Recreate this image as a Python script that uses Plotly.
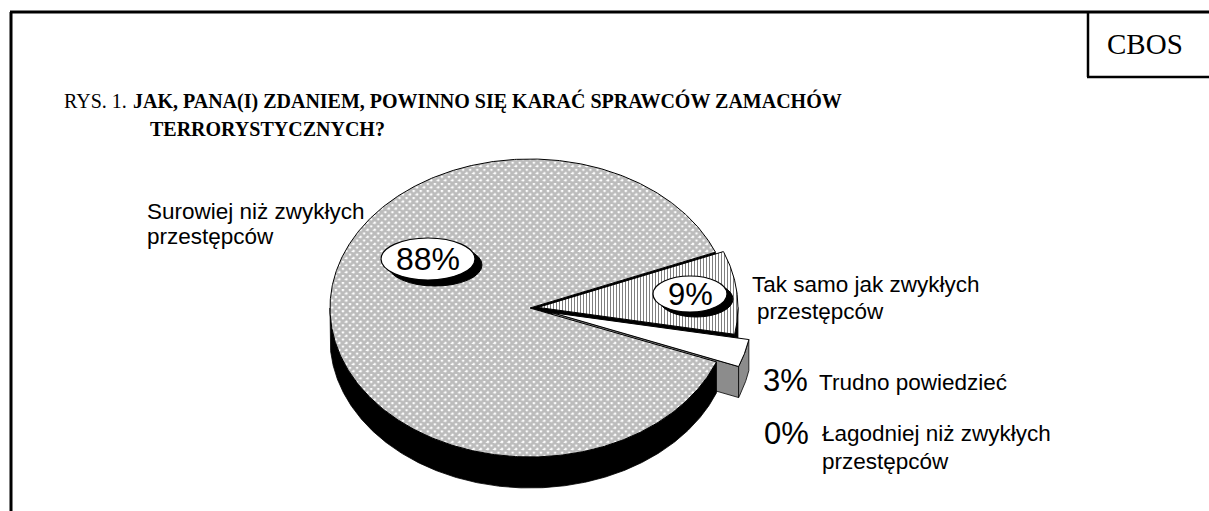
import numpy as np
import plotly.graph_objects as go

# ---------------- data ----------------
categories = ["Surowiej niż zwykłych przestępców", "Tak samo jak zwykłych przestępców",
              "Trudno powiedzieć", "Łagodniej niż zwykłych przestępców"]
values = [88, 9, 3, 0]
pct_text = ["88%", "9%", "3%", "0%"]
label_lines = [["Surowiej niż zwykłych", "przestępców"],
               ["Tak samo jak zwykłych", "przestępców"],
               ["Trudno powiedzieć"],
               ["Łagodniej niż zwykłych", "przestępców"]]
title_prefix = "RYS. 1."
title_lines = ["JAK, PANA(I) ZDANIEM, POWINNO SIĘ KARAĆ SPRAWCÓW ZAMACHÓW", "TERRORYSTYCZNYCH?"]
source_text = "CBOS"

# ---------------- style / geometry ----------------
W, H = 1209, 511
CX, CY, RX, RY, DEPTH = 530, 308, 200, 149, 31
START_DEG = -21.2          # first slice starts here, slices run clockwise
explode = [0.0, 0.04, 0.115, 0.0]
top_style = [
    dict(fillcolor="white", fillpattern=dict(shape="x", fgcolor="#7a7a7a", bgcolor="white", size=5, solidity=0.8)),
    dict(fillcolor="white", fillpattern=dict(shape="|", fgcolor="black", bgcolor="white", size=3, solidity=0.35)),
    dict(fillcolor="white"),
    dict(fillcolor="white"),
]
side_color = ["black", "black", "#8c8c8c", "black"]
SANS = "Liberation Sans, Arial, sans-serif"
SERIF = "Liberation Serif, Times New Roman, serif"


def outer(theta, off, dy=0.0):
    t = np.radians(theta)
    return CX + off[0] + RX * np.cos(t), CY + off[1] - RY * np.sin(t) + dy


def arc(t0, t1, off, dy=0.0, n=None):
    if n is None:
        n = max(2, int(abs(t1 - t0) * 2) + 2)
    th = np.linspace(t0, t1, n)
    x, y = outer(th, off, dy)
    return list(x), list(y)


def poly(xs, ys, lw=1.0, **kw):
    return go.Scatter(x=xs + [xs[0]], y=ys + [ys[0]], mode="lines", fill="toself",
                      line=dict(color="black", width=lw), hoverinfo="skip",
                      showlegend=False, **kw)


# compute slice angles
total = sum(values)
slices = []
a = START_DEG
for i, v in enumerate(values):
    span = v / total * 360.0
    a0, a1 = a, a - span
    mid = (a0 + a1) / 2
    off = (RX * explode[i] * np.cos(np.radians(mid)), -RY * explode[i] * np.sin(np.radians(mid)))
    slices.append((i, a0, a1, off))
    a = a1

faces, walls, tops = [], [], []
for i, a0, a1, off in slices:
    if values[i] == 0:
        continue
    apx, apy = CX + off[0], CY + off[1]
    # radial faces facing the viewer
    for edge, visible in ((a1, np.cos(np.radians(a1)) > 0), (a0, np.cos(np.radians(a0)) < 0)):
        if visible:
            ox, oy = outer(edge, off)
            faces.append(poly([apx, ox, ox, apx], [apy, oy, oy + DEPTH, apy + DEPTH], lw=0.8,
                              fillcolor=side_color[i]))
    # outer wall: part of [a1, a0] where sin < 0 (front)
    for k in range(-3, 2):
        lo, hi = max(a1, 360 * k + 180), min(a0, 360 * k + 360)
        if hi > lo:
            tx, ty = arc(hi, lo, off)
            bx, by = arc(lo, hi, off, DEPTH)
            walls.append(poly(tx + bx, ty + by, lw=0.8, fillcolor=side_color[i]))
    # top surface
    tx, ty = arc(a0, a1, off)
    tops.append(poly([apx] + tx, [apy] + ty, lw=1.0, **top_style[i]))

fig = go.Figure(faces + walls + tops)

shapes = []
# outer frame
shapes.append(dict(type="line", xref="x", yref="y", x0=11, x1=11, y0=12, y1=H + 2, line=dict(color="black", width=3)))
shapes.append(dict(type="line", xref="x", yref="y", x0=10, x1=W + 2, y0=12, y1=12, line=dict(color="black", width=3)))
# CBOS box
shapes.append(dict(type="line", xref="x", yref="y", x0=1088, x1=1088, y0=12, y1=77, line=dict(color="black", width=2.5)))
shapes.append(dict(type="line", xref="x", yref="y", x0=1087, x1=W + 2, y0=77, y1=77, line=dict(color="black", width=2.5)))

# label bubbles (88% and 9%)
bubbles = {0: (428, 259, 47, 21, 7, 6), 1: (690, 294, 37, 18, 6, 5)}
for i, (bx, by, rx, ry, sx, sy) in bubbles.items():
    shapes.append(dict(type="circle", xref="x", yref="y", x0=bx - rx + sx, x1=bx + rx + sx,
                       y0=by - ry + sy, y1=by + ry + sy, fillcolor="black", line=dict(color="black", width=1)))
    shapes.append(dict(type="circle", xref="x", yref="y", x0=bx - rx, x1=bx + rx,
                       y0=by - ry, y1=by + ry, fillcolor="white", line=dict(color="black", width=1.2)))

ann = []


def txt(x, y, s, size, family=SANS, xanchor="left", **kw):
    ann.append(dict(x=x, y=y, xref="x", yref="y", text=s, showarrow=False, xanchor=xanchor,
                    yanchor="middle", font=dict(family=family, size=size, color="black"), **kw))


# title
txt(62, 101, title_prefix, 20, SERIF)
txt(131, 101, "<b>" + title_lines[0] + "</b>", 20, SERIF)
txt(148, 129, "<b>" + title_lines[1] + "</b>", 20, SERIF)
txt(1145, 44, source_text, 29, SERIF, xanchor="center")

# percentages
txt(bubbles[0][0], bubbles[0][1], pct_text[0], 32, xanchor="center")
txt(bubbles[1][0], bubbles[1][1], pct_text[1], 31, xanchor="center")
txt(761, 380, pct_text[2], 31)
txt(762, 433, pct_text[3], 31)

# category labels
txt(145, 211, label_lines[0][0], 22.5)
txt(145, 236, label_lines[0][1], 22.5)
txt(750, 284, label_lines[1][0], 22.5)
txt(755, 311, label_lines[1][1], 22.5)
txt(817, 382, label_lines[2][0], 22.5)
txt(820, 433, label_lines[3][0], 22.5)
txt(820, 461, label_lines[3][1], 22.5)

fig.update_layout(
    width=W, height=H, margin=dict(l=0, r=0, t=0, b=0),
    paper_bgcolor="white", plot_bgcolor="white",
    xaxis=dict(range=[0, W], visible=False, fixedrange=True),
    yaxis=dict(range=[H, 0], visible=False, fixedrange=True),
    shapes=shapes, annotations=ann, showlegend=False,
)

fig.write_html("out.html", config={"displayModeBar": False, "staticPlot": True},
               post_script="document.body.style.margin='0';document.body.style.overflow='hidden';")
